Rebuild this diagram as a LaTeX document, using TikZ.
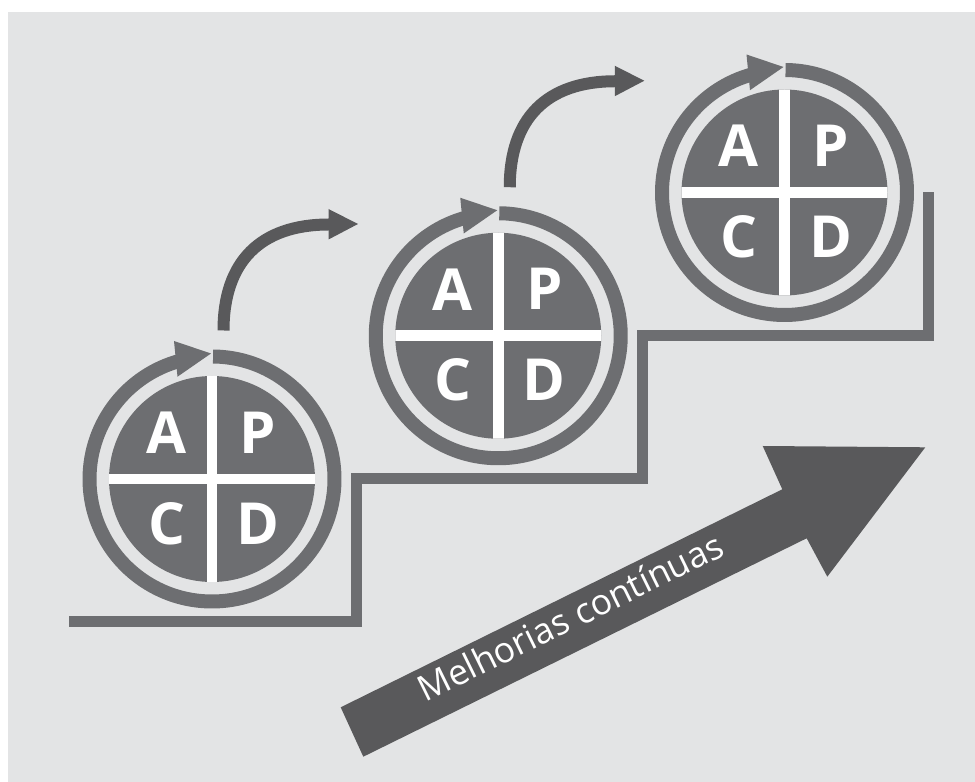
\documentclass[tikz,border=0pt]{standalone}
\usepackage{fontspec}
\setmainfont{Open Sans}
\usetikzlibrary{calc}
\definecolor{bggray}{HTML}{E3E4E5}
\definecolor{ringgray}{HTML}{6D6E71}
\definecolor{arrowgray}{HTML}{59595B}
\tikzset{
  quadletter/.style={text=white, inner sep=0pt,
    font=\fontsize{58}{58}\selectfont\bfseries},
  stairline/.style={draw=ringgray, line width=11pt, line join=miter, line cap=butt},
  curveshaft/.style={draw=arrowgray, line width=12pt},
  % one PDCA wheel: quartered disc, ring with its arrowhead, letters
  pdca/.pic={
    \fill[ringgray] (0,0) circle[radius=103];
    \begin{scope}
      \clip (0,0) circle[radius=103];
      \fill[white] (-5.25,-110) rectangle (5.25,110);
      \fill[white] (-110,-5.25) rectangle (110,5.25);
    \end{scope}
    \draw[ringgray, line width=14pt] (89.5:122.5) arc[start angle=89.5, end angle=-255, radius=122.5];
    \fill[ringgray] (-1,125.5) -- (-38,138) -- (-34.5,102.3) -- cycle;
    \node[quadletter] (-a) at (-45.5,46.5) {A};
    \node[quadletter] (-p) at (46,46.5) {P};
    \node[quadletter] (-c) at (-45.5,-44.5) {C};
    \node[quadletter] (-d) at (46,-44.5) {D};
  }
}
\begin{document}
\begin{tikzpicture}[x=1pt,y=1pt]
  \useasboundingbox (0,0) rectangle (975,782);
  \fill[bggray] (8,0) rectangle (975,770);

  % wheel centres
  \coordinate (c1) at (212,303);
  \coordinate (c2) at (498.25,446.25);
  \coordinate (c3) at (784.5,589.5);

  % staircase: each riser stands 144pt right of a wheel centre
  \coordinate (r1) at ($(c1)+(144,0)$);
  \coordinate (r2) at ($(c2)+(144,0)$);
  \coordinate (r3) at ($(c3)+(144,0)$);
  \coordinate (st0) at (69,160.5);
  \draw[stairline] (st0) -- (st0 -| r1) -- (r1) -- (r2 |- r1) -- (r2)
    -- (r3 |- r2) -- (r3);

  % wheels
  \pic (w1) at (c1) {pdca};
  \pic (w2) at (c2) {pdca};
  \pic (w3) at (c3) {pdca};

  % curved arrows leading up to the next step
  \foreach \c in {c1,c2}{
    \coordinate (s) at ($(\c)+(11.5,148.5)$);
    \coordinate (e) at ($(\c)+(116.5,254.5)$);
    \draw[curveshaft] (s) .. controls ($(s)+(0,69)$) and ($(e)+(-68,0)$) .. ($(e)+(0.6,0)$);
    \fill[arrowgray] ($(e)+(0,15.5)$) -- ($(e)+(29.5,0.5)$) -- ($(e)+(0,-15)$) -- cycle;
  }

  % large arrow
  \fill[arrowgray] (340.7,74.7) -- (782.3,292.7) -- (762.7,336) -- (925.3,334.7)
    -- (827.3,205.3) -- (806.7,243.7) -- (363.3,25.3) -- cycle;
  \node[text=white, inner sep=0pt, anchor=base, rotate=26.2,
    font=\fontsize{35.5}{35.5}\selectfont] (label) at (575.8,153.4) {Melhorias contínuas};
\end{tikzpicture}
\end{document}
